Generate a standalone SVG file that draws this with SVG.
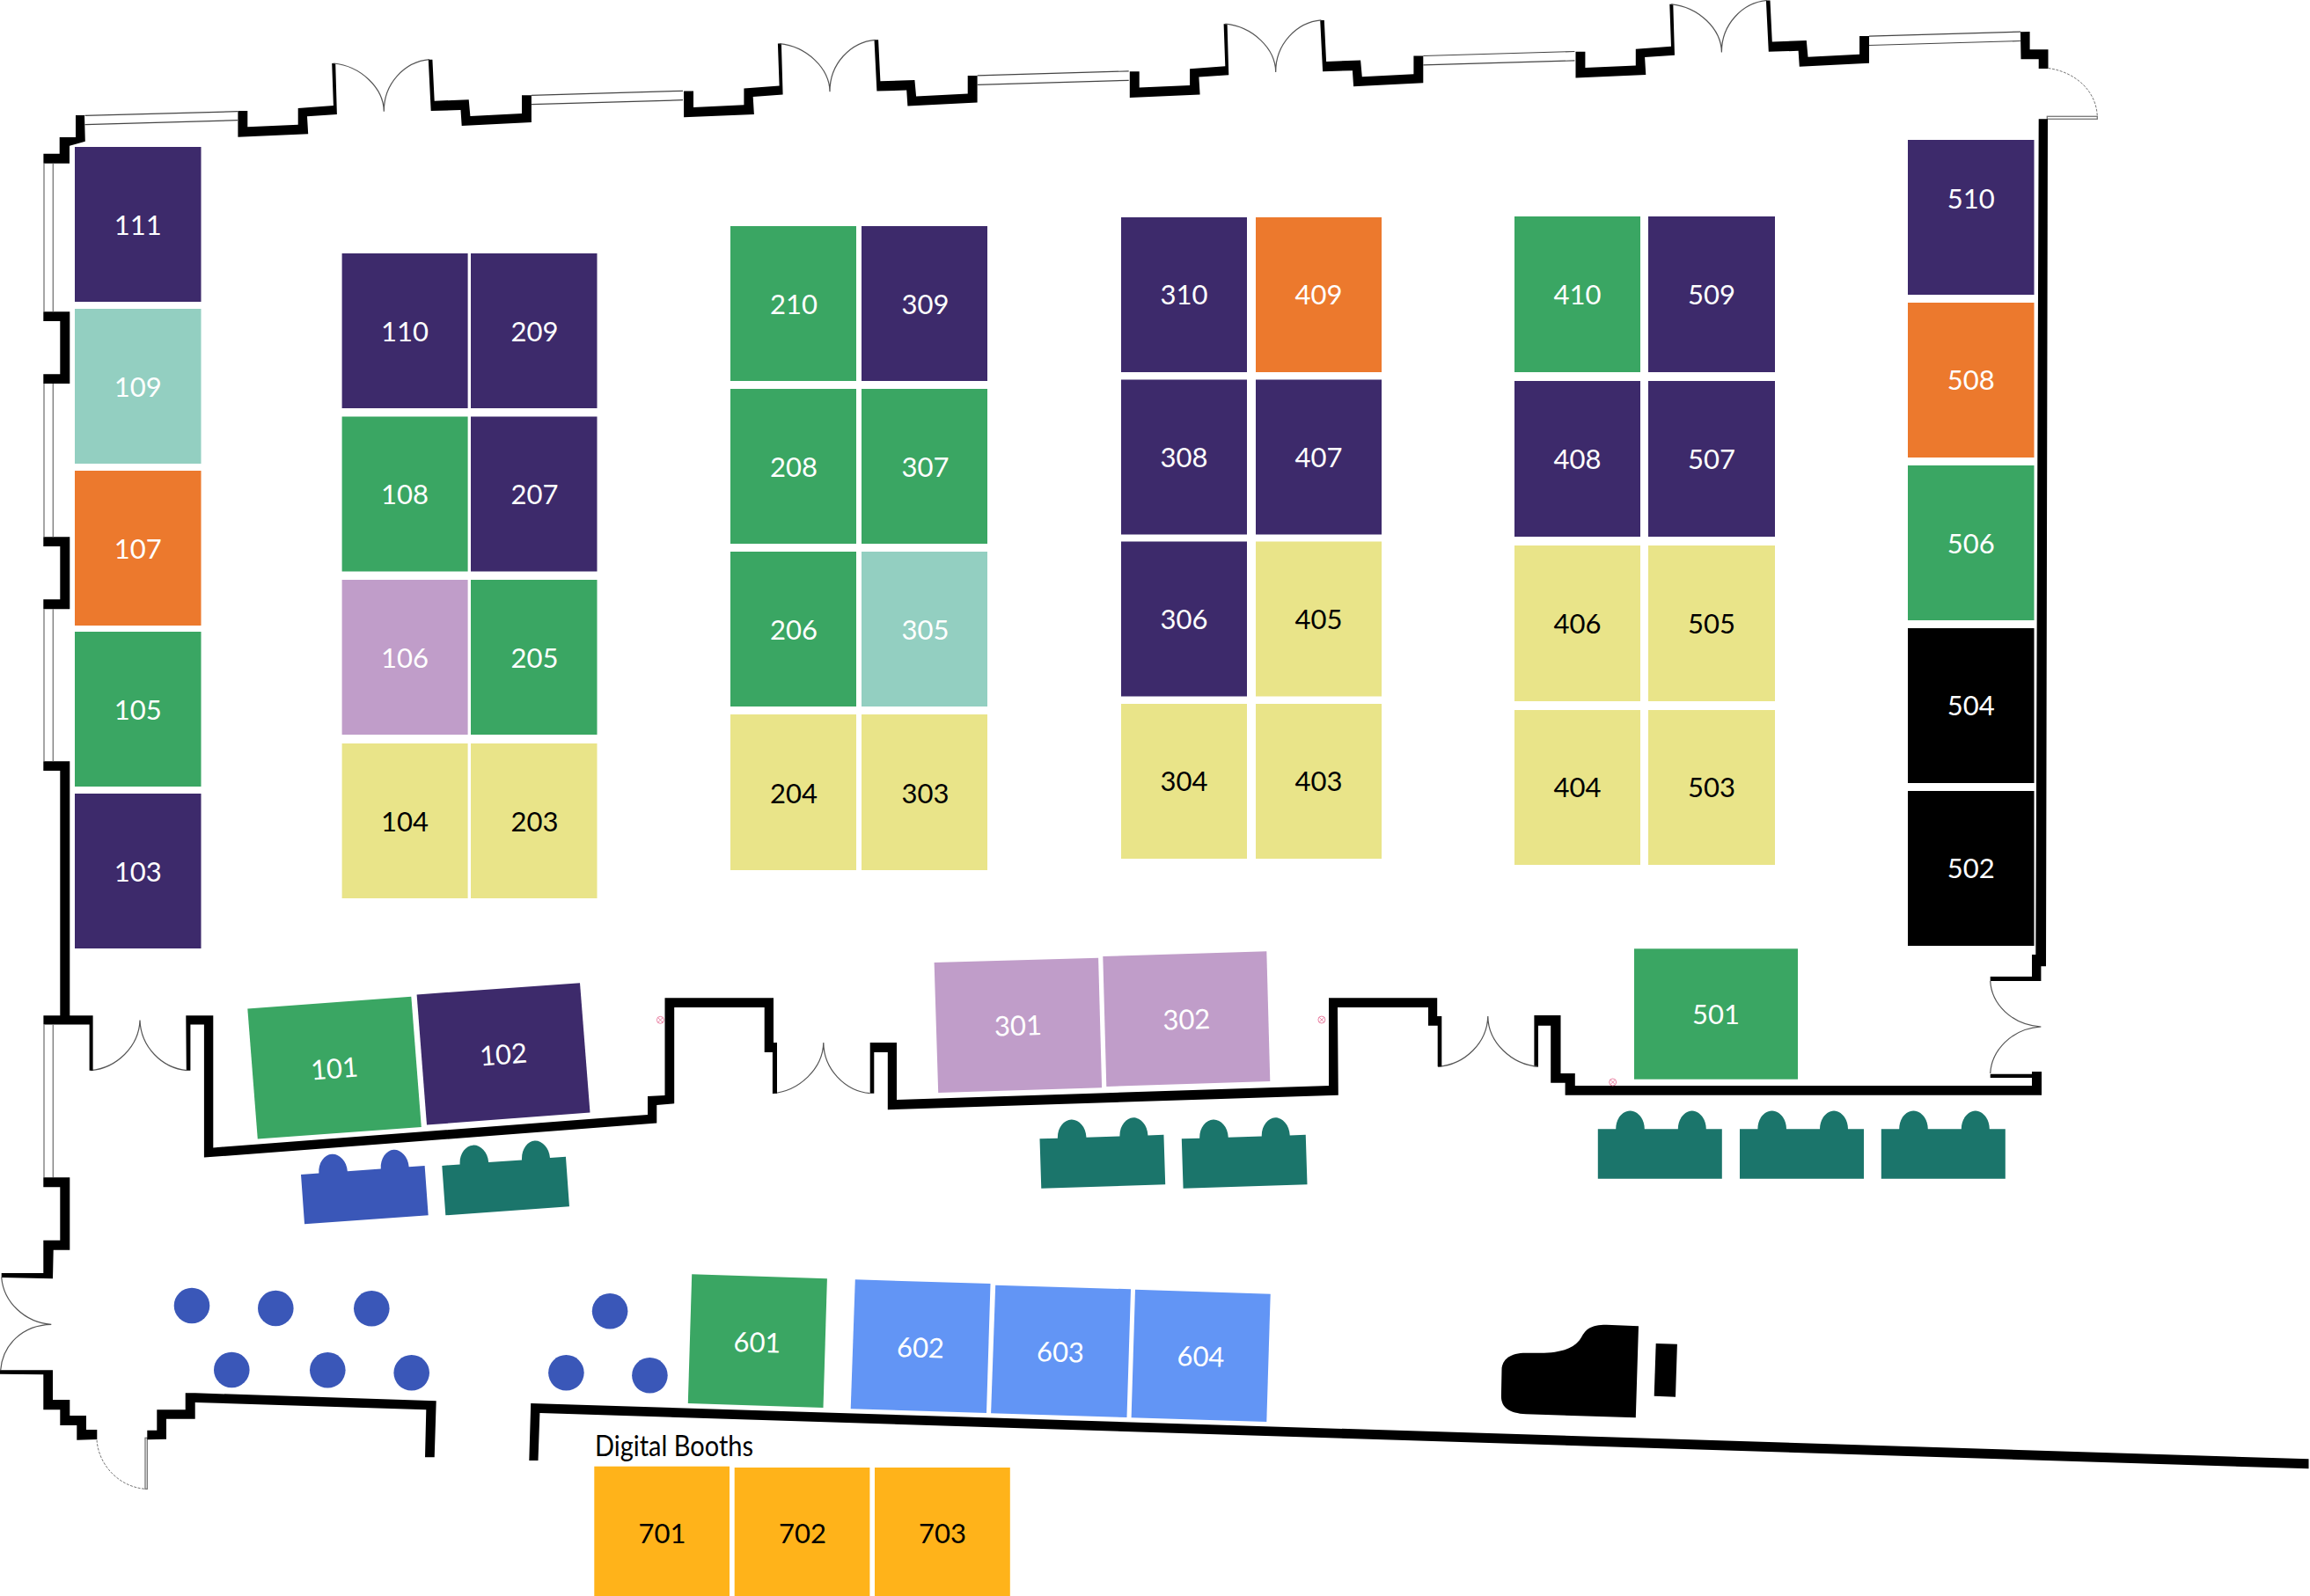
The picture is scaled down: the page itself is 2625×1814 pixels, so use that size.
<svg xmlns="http://www.w3.org/2000/svg" width="2625" height="1814" viewBox="0 0 2625 1814">
<style>
text{font-family:"Lato","Noto Sans",sans-serif;font-size:31px;text-anchor:middle}
.w text,text.w{fill:#fff}
.k text,text.k{fill:#000}
.pu{fill:#3d2a6b}.gr{fill:#3aa663}.te{fill:#93cfc1}.or{fill:#ec792d}.ye{fill:#e9e489}.ma{fill:#c09dc9}.bl{fill:#000}.sk{fill:#6295f5}.am{fill:#ffb31a}
.wall{fill:#000}
.line{fill:none;stroke:#555;stroke-width:1.2}
.win{fill:none;stroke:#777;stroke-width:1.3}
.wt{fill:none;stroke:#444;stroke-width:1.2}
.dash{fill:none;stroke:#777;stroke-width:1;stroke-dasharray:3 1.5}
.seat{fill:#3a57b8}
.sofa-t{fill:#1b756b}.sofa-b{fill:#3a57b8}
.mark{fill:none;stroke:#e8789c;stroke-width:.9}
</style>
<defs>
<path id="sofa" d="M0,0H20.4C20.4,-12 28,-20.7 36.7,-20.7C45,-20.7 53,-12 53,0H91C91,-12 99,-20.7 107,-20.7C115,-20.7 123,-12 123,0H141V56.5H0Z"/>
<g id="bay">
<polygon points="270.4,126 281.3,126 281.3,144.3 338.7,141.7 338.7,123 378.9,120 377.2,72 381.2,72 382.9,130 349,132.3 350.2,152.3 270.4,155.7"/>
<polygon points="486.8,67.7 491.4,67.7 493.7,114.7 532.7,113.3 534.4,132 593,129 593,108.3 603.9,108.3 603.9,139 524.7,143 523.5,125 489.7,126"/>
<path class="line" d="M379,72C410,75 436,100 436.3,126.7M488,67.7C460,70 436,95 436.3,126.7"/>
<path class="wt" d="M603.9,108.3L776,103.3M603.9,118.7L776,113.7"/>
</g>
<g id="mk"><circle r="4"/><path d="M-2.8,-2.8L2.8,2.8M2.8,-2.8L-2.8,2.8"/></g>
</defs>
<rect width="2625" height="1814" fill="#fff"/>

<g id="walls">
<path class="wt" d="M96.5,131.3L270,126.7M96.5,141.7L270,136.7"/>
<polygon class="wall" points="49.4,174.7 67.7,174.7 67.7,156 86,156 86,131 96,131 96.8,160.7 79,165.7 79,185.7 49.4,185.7"/>
<use href="#bay" class="wall"/>
<use href="#bay" class="wall" transform="translate(506.7,-22.4)"/>
<use href="#bay" class="wall" transform="translate(1013.4,-44.8)"/>
<use href="#bay" class="wall" transform="translate(1520.1,-67.2)"/>
<polygon class="wall" points="2296,36.3 2306.6,36 2306.6,56.3 2327.5,56.3 2327.5,78 2316.7,78 2316.7,67.3 2296.5,67.3"/>
<path class="dash" d="M2327.5,77.5C2360,82 2383,105 2383.3,133.3"/>
<rect class="win" x="2326.3" y="132.3" width="57" height="3"/>
<polygon class="wall" points="2316.7,135.3 2327,135.3 2325,1098.3 2319.4,1098.3 2319.4,1115 2261.7,1115 2261.7,1110 2309,1110 2309,1085 2313.3,1085"/>
<path class="line" d="M2261.7,1115C2263,1140 2285,1165 2319.4,1167M2261.7,1220C2263,1195 2285,1169 2319.4,1167"/>
<polygon class="wall" points="1743.4,1154 1773.5,1154 1773.5,1220 1789.8,1220 1789.8,1234 2309,1234 2309,1225 2261.7,1225 2261.7,1220.7 2309,1220.7 2309,1218 2320,1218 2320,1244.7 1778.6,1244.7 1778.6,1230.7 1762.2,1230.7 1762.2,1165.7 1748,1165.7 1748,1212.3 1743.4,1212.3"/>
<path class="line" d="M1634.2,1212.3C1665,1210 1690,1185 1690.8,1155M1748,1212.3C1718,1210 1691,1185 1690.8,1155"/>
<polygon class="wall" points="988.7,1185 1019,1185 1019,1250 1510,1234 1510,1134.3 1633.2,1134.3 1633.2,1155 1638.3,1155 1638.3,1212.3 1633.7,1212.3 1633.7,1165.7 1623,1165.7 1623,1145 1520,1145 1520.8,1244.7 1008.8,1261.3 1008.8,1196 993.3,1196 993.3,1242.7 988.7,1242.7"/>
<path class="line" d="M877.9,1242.7C908,1240 935,1215 935.8,1185M988.7,1242.7C960,1240 936,1215 935.8,1185"/>
<polygon class="wall" points="211.3,1154.3 242.3,1154.3 242.3,1304.4 736,1266.9 736,1246 755.5,1245 755.5,1134.3 879,1134.3 879,1185 883,1185 883,1242.7 877.9,1242.7 877.9,1196 868.7,1196 868.7,1145 766.2,1145 766.2,1254.3 746.3,1256 746.3,1276.6 231.9,1315.6 231.9,1164.5 216.4,1164.5 216.4,1216.7 211.8,1216.7"/>
<path class="line" d="M103.3,1216.7C132,1214 158,1190 159,1159.6M212.4,1216.7C184,1214 160,1190 159,1159.6"/>
<polygon class="wall" points="67.7,865.3 79.3,865.3 79.3,1154.3 105.6,1154.3 105.6,1216.7 101.6,1216.7 101.6,1164.5 49.4,1164.5 49.4,1154.3 68.3,1154.3 68.3,876 49.3,876 49.3,865.3"/>
<polygon class="wall" points="49.3,354.3 79.3,354.3 79.3,436 49.3,436 49.3,425.3 68.3,425.3 68.3,365 49.3,365"/>
<polygon class="wall" points="49.3,610.3 79.3,610.3 79.3,692.3 49.3,692.3 49.3,681.3 68.3,681.3 68.3,621 49.3,621"/>
<path class="win" d="M50,185.7V354.3M60.3,185.7V354.3M50,436V610.3M60.3,436V610.3M50,692.3V865.3M60.3,692.3V865.3M50,1164.5V1338.3M60.3,1164.5V1338.3"/>
<polygon class="wall" points="49.3,1338.3 79.3,1338.3 79.3,1420.7 60.7,1420.7 60,1453.3 1.7,1452 1.7,1447 49.3,1447 49.3,1409.7 68.3,1409.7 68.3,1349.3 49.3,1349.3"/>
<path class="line" d="M1.7,1451.7C4,1480 28,1503 58.3,1505.3M0.7,1557.3C3,1528 26,1506 58.3,1505.3"/>
<polygon class="wall" points="0,1557.3 60,1557.3 60,1591 79.3,1591 79.3,1609 98,1609 98,1625 110.3,1625 110.3,1636 87.3,1636.7 87.3,1620 68.3,1620 68.3,1602.3 49.3,1602.3 49.3,1562.3 0,1561.7"/>
<path class="dash" d="M110,1636.7C112,1665 135,1690 165,1692.3"/>
<rect class="win" x="165" y="1634.3" width="2.3" height="58"/>
<polygon class="wall" points="167.3,1625.7 178.3,1625.7 178.3,1602.3 210.7,1602.3 210.7,1583.3 221.7,1583.3 495.7,1592.3 493.7,1656.3 483,1656.3 484.3,1602.3 221.7,1594 221.7,1612.7 189,1612.7 189,1635.7 167.3,1636.3"/>
<polygon class="wall" points="603.2,1595 2623.5,1658.3 2623.5,1669.3 613.4,1606 611.5,1660 601.3,1660"/>
</g>

<g id="marks" class="mark">
<use href="#mk" x="750.4" y="1159.3"/><use href="#mk" x="1501.9" y="1159"/><use href="#mk" x="1832.7" y="1230"/>
</g>

<g id="booth-111" class="w"><rect class="pu" x="85" y="167" width="143.5" height="176"/><text x="156.7" y="267">111</text></g>
<g id="booth-109" class="w"><rect class="te" x="85" y="351" width="143.5" height="176"/><text x="156.7" y="450.5">109</text></g>
<g id="booth-107" class="w"><rect class="or" x="85" y="535" width="143.5" height="176"/><text x="156.7" y="634.5">107</text></g>
<g id="booth-105" class="w"><rect class="gr" x="85" y="718" width="143.5" height="176"/><text x="156.7" y="818">105</text></g>
<g id="booth-103" class="w"><rect class="pu" x="85" y="902" width="143.5" height="176"/><text x="156.7" y="1001.5">103</text></g>

<g id="booth-110" class="w"><rect class="pu" x="388.6" y="288" width="143" height="176"/><text x="460" y="388.3">110</text></g>
<g id="booth-209" class="w"><rect class="pu" x="535" y="288" width="143.5" height="176"/><text x="607.5" y="388.3">209</text></g>
<g id="booth-108" class="w"><rect class="gr" x="388.6" y="473.5" width="143" height="176"/><text x="460" y="573.3">108</text></g>
<g id="booth-207" class="w"><rect class="pu" x="535" y="473.5" width="143.5" height="176"/><text x="607.5" y="573.3">207</text></g>
<g id="booth-106" class="w"><rect class="ma" x="388.6" y="659" width="143" height="176"/><text x="460" y="759.3">106</text></g>
<g id="booth-205" class="w"><rect class="gr" x="535" y="659" width="143.5" height="176"/><text x="607.5" y="759.3">205</text></g>
<g id="booth-104" class="k"><rect class="ye" x="388.6" y="845" width="143" height="176"/><text x="460" y="945.3">104</text></g>
<g id="booth-203" class="k"><rect class="ye" x="535" y="845" width="143.5" height="176"/><text x="607.5" y="945.3">203</text></g>

<g id="booth-210" class="w"><rect class="gr" x="830" y="257" width="143" height="176"/><text x="902" y="357.3">210</text></g>
<g id="booth-309" class="w"><rect class="pu" x="979" y="257" width="143" height="176"/><text x="1051.5" y="357.3">309</text></g>
<g id="booth-208" class="w"><rect class="gr" x="830" y="442" width="143" height="176"/><text x="902" y="542.3">208</text></g>
<g id="booth-307" class="w"><rect class="gr" x="979" y="442" width="143" height="176"/><text x="1051.5" y="542.3">307</text></g>
<g id="booth-206" class="w"><rect class="gr" x="830" y="627" width="143" height="176"/><text x="902" y="727.3">206</text></g>
<g id="booth-305" class="w"><rect class="te" x="979" y="627" width="143" height="176"/><text x="1051.5" y="727.3">305</text></g>
<g id="booth-204" class="k"><rect class="ye" x="830" y="812" width="143" height="177"/><text x="902" y="912.8">204</text></g>
<g id="booth-303" class="k"><rect class="ye" x="979" y="812" width="143" height="177"/><text x="1051.5" y="912.8">303</text></g>

<g id="booth-310" class="w"><rect class="pu" x="1274" y="247" width="143" height="176"/><text x="1345.5" y="346.3">310</text></g>
<g id="booth-409" class="w"><rect class="or" x="1427" y="247" width="143" height="176"/><text x="1498.5" y="346.3">409</text></g>
<g id="booth-308" class="w"><rect class="pu" x="1274" y="431.5" width="143" height="176"/><text x="1345.5" y="530.8">308</text></g>
<g id="booth-407" class="w"><rect class="pu" x="1427" y="431.5" width="143" height="176"/><text x="1498.5" y="530.8">407</text></g>
<g id="booth-306" class="w"><rect class="pu" x="1274" y="615.5" width="143" height="176"/><text x="1345.5" y="714.8">306</text></g>
<g id="booth-405" class="k"><rect class="ye" x="1427" y="615.5" width="143" height="176"/><text x="1498.5" y="714.8">405</text></g>
<g id="booth-304" class="k"><rect class="ye" x="1274" y="800" width="143" height="176"/><text x="1345.5" y="899.3">304</text></g>
<g id="booth-403" class="k"><rect class="ye" x="1427" y="800" width="143" height="176"/><text x="1498.5" y="899.3">403</text></g>

<g id="booth-410" class="w"><rect class="gr" x="1721" y="246" width="143" height="177"/><text x="1792.5" y="345.8">410</text></g>
<g id="booth-509" class="w"><rect class="pu" x="1873" y="246" width="144" height="177"/><text x="1945" y="345.8">509</text></g>
<g id="booth-408" class="w"><rect class="pu" x="1721" y="433" width="143" height="177"/><text x="1792.5" y="532.8">408</text></g>
<g id="booth-507" class="w"><rect class="pu" x="1873" y="433" width="144" height="177"/><text x="1945" y="532.8">507</text></g>
<g id="booth-406" class="k"><rect class="ye" x="1721" y="620" width="143" height="177"/><text x="1792.5" y="719.8">406</text></g>
<g id="booth-505" class="k"><rect class="ye" x="1873" y="620" width="144" height="177"/><text x="1945" y="719.8">505</text></g>
<g id="booth-404" class="k"><rect class="ye" x="1721" y="807" width="143" height="176"/><text x="1792.5" y="906.3">404</text></g>
<g id="booth-503" class="k"><rect class="ye" x="1873" y="807" width="144" height="176"/><text x="1945" y="906.3">503</text></g>

<g id="booth-510" class="w"><rect class="pu" x="2168" y="159" width="143.5" height="176"/><text x="2239.7" y="237.3">510</text></g>
<g id="booth-508" class="w"><rect class="or" x="2168" y="344" width="143.5" height="176"/><text x="2239.7" y="443.3">508</text></g>
<g id="booth-506" class="w"><rect class="gr" x="2168" y="529" width="143.5" height="176"/><text x="2239.7" y="629.3">506</text></g>
<g id="booth-504" class="w"><rect class="bl" x="2168" y="714" width="143.5" height="176"/><text x="2239.7" y="813.3">504</text></g>
<g id="booth-502" class="w"><rect class="bl" x="2168" y="899" width="143.5" height="176"/><text x="2239.7" y="998.3">502</text></g>

<g id="booth-101" class="w"><polygon class="gr" points="281.3,1146.5 467.3,1132.8 478.8,1281 292.8,1294.6"/><text transform="translate(380,1214.2) rotate(-4.2) translate(0,11.3)">101</text></g>
<g id="booth-102" class="w"><polygon class="pu" points="473.6,1130.4 659,1117.3 670.5,1264.4 485,1278.6"/><text transform="translate(572,1198.2) rotate(-4.2) translate(0,11.3)">102</text></g>
<g id="booth-301" class="w"><polygon class="ma" points="1061.6,1094 1248.1,1088.7 1252.1,1236.3 1066.2,1242"/><text transform="translate(1157,1165.5) rotate(-1.6) translate(0,11.3)">301</text></g>
<g id="booth-302" class="w"><polygon class="ma" points="1253.3,1087 1439.3,1081.3 1443.3,1229 1257.3,1235"/><text transform="translate(1348.3,1158.5) rotate(-1.6) translate(0,11.3)">302</text></g>
<g id="booth-501" class="w"><rect class="gr" x="1857" y="1078.3" width="186" height="148.4"/><text x="1950" y="1163.8">501</text></g>

<g id="booth-601" class="w"><polygon class="gr" points="786.2,1448.3 939.9,1453.3 935.5,1600 781.8,1595"/><text transform="translate(860.5,1525.5) rotate(1.9) translate(0,11.3)">601</text></g>
<g id="booth-602" class="w"><polygon class="sk" points="971.8,1454.3 1125.5,1459 1121,1606 966.7,1601.3"/><text transform="translate(1046,1531.5) rotate(1.9) translate(0,11.3)">602</text></g>
<g id="booth-603" class="w"><polygon class="sk" points="1131.2,1460.7 1285,1465.3 1280.5,1611 1126.1,1606.3"/><text transform="translate(1205,1536.5) rotate(1.9) translate(0,11.3)">603</text></g>
<g id="booth-604" class="w"><polygon class="sk" points="1290,1465.7 1443.7,1470.7 1439.3,1616 1285.6,1611.3"/><text transform="translate(1364.5,1541.5) rotate(1.9) translate(0,11.3)">604</text></g>

<text id="label-digital" class="k" x="766" y="1655" style="font-size:32px" textLength="180" lengthAdjust="spacingAndGlyphs">Digital Booths</text>
<g id="booth-701" class="k"><rect class="am" x="675.3" y="1666.7" width="153.7" height="147.3"/><text x="752.5" y="1753.5">701</text></g>
<g id="booth-702" class="k"><rect class="am" x="834.7" y="1668" width="153.7" height="146"/><text x="912" y="1753.5">702</text></g>
<g id="booth-703" class="k"><rect class="am" x="994" y="1668" width="153.8" height="146"/><text x="1071" y="1753.5">703</text></g>

<g id="sofa-1"><use href="#sofa" class="sofa-b" transform="translate(342,1335) rotate(-4.1)"/></g>
<g id="sofa-2"><use href="#sofa" class="sofa-t" transform="translate(502.3,1324.9) rotate(-4.1)"/></g>
<g id="sofa-3"><use href="#sofa" class="sofa-t" transform="translate(1181.5,1294.3) rotate(-1.8)"/></g>
<g id="sofa-4"><use href="#sofa" class="sofa-t" transform="translate(1342.8,1294.3) rotate(-1.8)"/></g>
<g id="sofa-5"><use href="#sofa" class="sofa-t" transform="translate(1815.8,1283.3)"/></g>
<g id="sofa-6"><use href="#sofa" class="sofa-t" transform="translate(1977,1283.3)"/></g>
<g id="sofa-7"><use href="#sofa" class="sofa-t" transform="translate(2137.8,1283.3)"/></g>

<g id="seats" class="seat">
<circle cx="218" cy="1484" r="20.3"/><circle cx="313.3" cy="1487" r="20.3"/><circle cx="422.3" cy="1487.3" r="20.3"/>
<circle cx="263.3" cy="1557" r="20.3"/><circle cx="372.3" cy="1557.3" r="20.3"/><circle cx="467.7" cy="1560.3" r="20.3"/>
<circle cx="693.1" cy="1490.3" r="20.3"/><circle cx="643.4" cy="1560.3" r="20.3"/><circle cx="738.4" cy="1563.3" r="20.3"/>
</g>

<g id="piano">
<path d="M1862,1507.3L1858.8,1611.3L1734,1607.3C1715,1606 1706,1600 1705.9,1586.7L1706.5,1556.7C1707,1545 1716,1537.7 1734,1537.7L1750.3,1537.7C1775,1537.7 1790,1532 1797,1520C1802,1511 1807,1505.7 1825.5,1505.7Z"/>
<polygon points="1881.7,1527 1905.9,1527.7 1904,1587.7 1879.7,1586.7"/>
</g>
</svg>
